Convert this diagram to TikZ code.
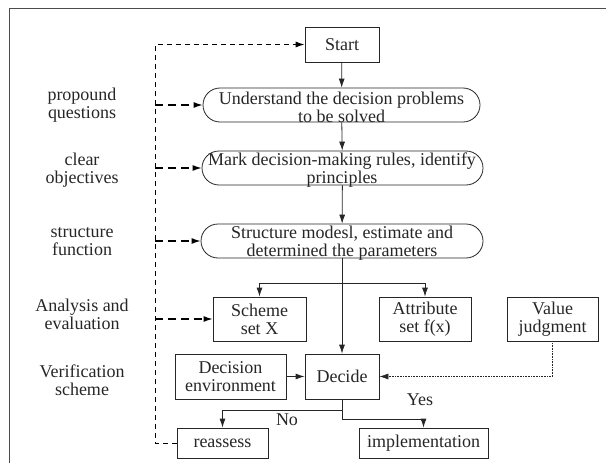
\documentclass[tikz,border=0pt]{standalone}
\usepackage{fontspec}
\setmainfont{Liberation Serif}
\usetikzlibrary{arrows.meta}
\begin{document}
\begin{tikzpicture}[x=1pt,y=-1pt,
  every node/.style={font=\fontsize{18}{18}\selectfont, text=black!85},
  box/.style={draw=black!85, line width=0.8pt, inner sep=0pt, align=center},
  rbox/.style={draw=black!85, line width=0.8pt, inner sep=0pt, rounded corners=17pt, minimum height=34pt},
  txt/.style={align=center, inner sep=0pt},
  arr/.style={draw=black!85, line width=0.8pt, -{Latex[length=9pt,width=6pt]}},
  dsh/.style={arr, draw=black, line width=1pt, dash pattern=on 5pt off 4pt},
  dshb/.style={arr, draw=black, line width=1.2pt, dash pattern=on 8pt off 5pt},
  dot/.style={draw=black!85, line width=0.6pt, densely dotted, -{Latex[length=9pt,width=6pt]}},
  frame/.style={draw=black!70, line width=1.4pt}
]
\useasboundingbox (0,0) rectangle (606,463);
\draw[frame] (9.5,463) -- (9.5,8.5) -- (606,8.5);

% main column
\node[box, minimum width=74pt, minimum height=35pt] (start) at (342,44.5) {Start};
\node[rbox, minimum width=277pt] (und) at (341.5,105) {};
\node[txt] (undt) at (341.5,107) {Understand the decision problems\\to be solved};
\node[rbox, minimum width=281pt] (mark) at (342.5,168) {};
\node[txt] (markt) at (342,170) {Mark decision-making rules, identify\\principles};
\node[rbox, minimum width=282pt] (struct) at (342,241) {};
\node[txt] (structt) at (342,243) {Structure modesl, estimate and\\determined the parameters};

\node[box, minimum width=93pt, minimum height=44pt] (scheme) at (259.5,319) {Scheme\\set X};
\node[box, minimum width=92pt, minimum height=44pt] (attr) at (425,319) {Attribute\\set f(x)};
\node[box, minimum width=91pt, minimum height=44pt] (value) at (552.5,319) {Value\\judgment};

\node[box, minimum width=111pt, minimum height=45pt] (denv) at (230.5,376.5) {Decision\\environment};
\node[box, minimum width=74pt, minimum height=45pt] (decide) at (342,376.5) {Decide};

\node[box, minimum width=91pt, minimum height=30pt] (reass) at (222.5,443) {reassess};
\node[box, minimum width=129pt, minimum height=30pt] (impl) at (423.5,443) {implementation};

% left labels
\node[txt] (l1) at (82,105.5) {propound\\questions};
\node[txt] (l2) at (82,170) {clear\\objectives};
\node[txt] (l3) at (82,242) {structure\\function};
\node[txt] (l4) at (82,314.5) {Analysis and\\evaluation};
\node[txt] (l5) at (82,380) {Verification\\scheme};

\node[txt] (yes) at (420,400) {Yes};
\node[txt] (no) at (287,420) {No};

% solid connectors
\draw[arr] (start) -- (und);
\draw[arr] (und) -- (mark);
\draw[arr] (mark) -- (struct);
\draw[arr] (struct) -- (decide);
\coordinate (br) at (342,283);
\draw[arr] (br) -| (scheme.north);
\draw[arr] (br) -| (attr.north);
\draw[arr] (denv) -- (decide);
\draw[dot] (value.south) |- (decide.east);
\draw[arr] (decide.south) -- ++(0,11) -| (reass.north);
\draw[arr] (decide.south) -- ++(0,20) -| (impl.north);

% dashed feedback
\coordinate (dl) at (155,443);
\draw[dsh] (reass.west) -- (dl) |- (start.west);
\draw[dshb] (155,105) -- (und.west);
\draw[dshb] (155,168) -- (mark.west);
\draw[dshb] (155,241) -- (struct.west);
\draw[dshb] (155,319) -- (scheme.west);
\end{tikzpicture}
\end{document}
